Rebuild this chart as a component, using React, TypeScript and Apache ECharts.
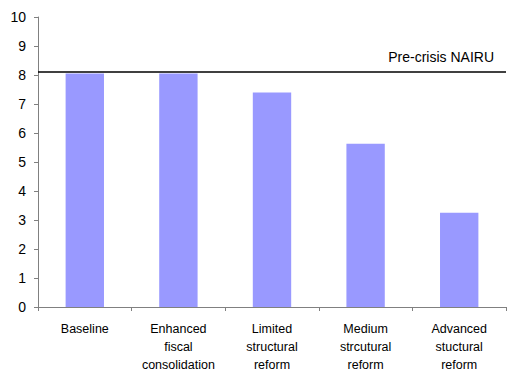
import React, { useEffect, useRef } from "react";
import * as echarts from "echarts";

const categories = [
  "Baseline",
  "Enhanced\nfiscal\nconsolidation",
  "Limited\nstructural\nreform",
  "Medium\nstrcutural\nreform",
  "Advanced\nstuctural\nreform",
];
const nairuValues = [8.05, 8.05, 7.4, 5.63, 3.25];
const preCrisisNairu = 8.1;
const yTicks = { min: 0, max: 10, interval: 1 };

export default function App() {
  const ref = useRef<HTMLDivElement>(null);

  useEffect(() => {
    if (!ref.current) return;
    const chart = echarts.init(ref.current, null, { renderer: "svg" });
    const font = "Liberation Sans, Arial, sans-serif";
    chart.setOption({
      animation: false,
      grid: { left: 38, right: 12, top: 17, bottom: 61 },
      xAxis: {
        type: "category",
        data: categories,
        axisLine: { lineStyle: { color: "#808080", width: 1 } },
        axisTick: { show: true, length: 4, lineStyle: { color: "#808080" } },
        axisLabel: {
          color: "#000",
          fontSize: 12.5,
          fontFamily: font,
          lineHeight: 18,
          margin: 13,
          interval: 0,
        },
      },
      yAxis: {
        type: "value",
        min: yTicks.min,
        max: yTicks.max,
        interval: yTicks.interval,
        splitLine: { show: false },
        axisLine: { show: true, lineStyle: { color: "#808080", width: 1 } },
        axisTick: { show: true, length: 4, lineStyle: { color: "#808080" } },
        axisLabel: { color: "#000", fontSize: 14, fontFamily: font, margin: 12 },
      },
      series: [
        {
          type: "bar",
          data: nairuValues,
          barWidth: "41%",
          itemStyle: { color: "#9999FF" },
          markLine: {
            silent: true,
            symbol: "none",
            lineStyle: { color: "#000", width: 1.5, type: "solid" },
            label: {
              show: true,
              position: "insideEndTop",
              formatter: "Pre-crisis NAIRU",
              color: "#000",
              fontSize: 14,
              fontFamily: font,
              distance: [12, 8],
            },
            data: [{ yAxis: preCrisisNairu }],
          },
        },
      ],
    });
    return () => chart.dispose();
  }, []);

  return (
    <div
      ref={ref}
      style={{ position: "absolute", left: 0, top: 0, width: 518, height: 374 }}
    />
  );
}
